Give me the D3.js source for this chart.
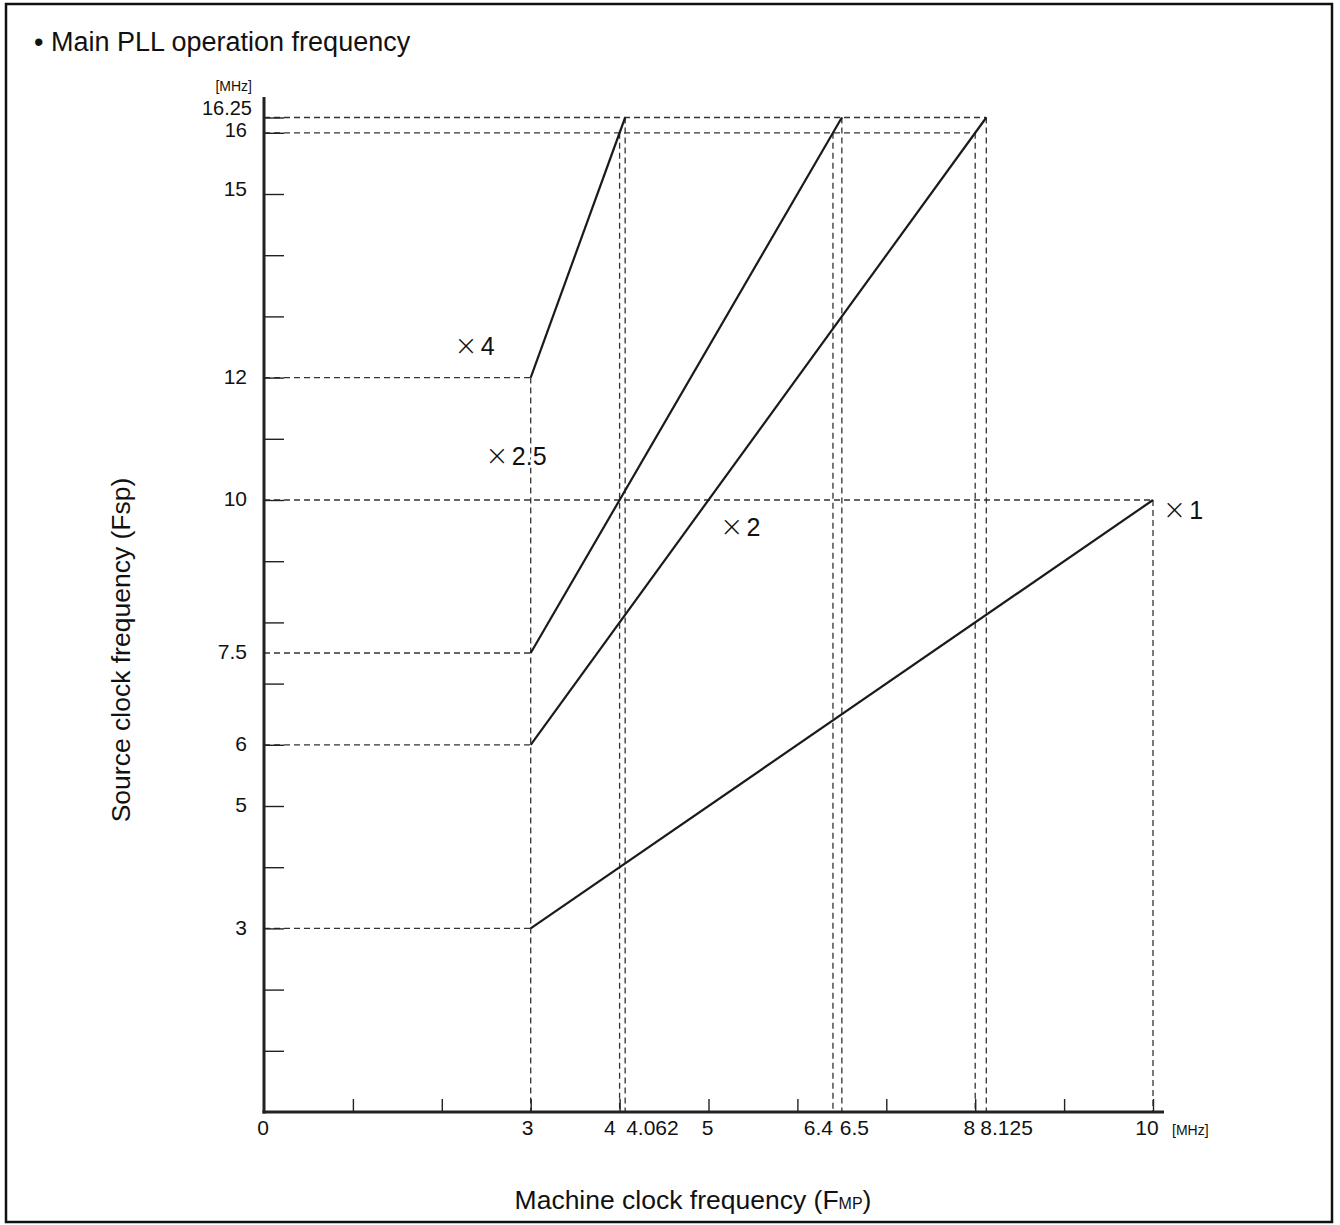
<!DOCTYPE html>
<html>
<head>
<meta charset="utf-8">
<script src="https://cdn.jsdelivr.net/npm/d3@7"></script>
<style>
  body { margin: 0; background: #fff; }
  text { font-family: "Liberation Sans", Arial, Helvetica, sans-serif; fill: #111; }
</style>
</head>
<body>
<svg id="chart" width="1340" height="1225"></svg>
<script>
// chart values
const seriesNames = ['4', '2.5', '2', '1'];
const fmpFrom = [3, 3, 3, 3];
const fmpTo = [4.0625, 6.5, 8.125, 10];
const fspFrom = [12, 7.5, 6, 3];
const fspTo = [16.25, 16.25, 16.25, 10];

// guide lines (dashed)
const hGuideFsp = [3, 6, 7.5, 12, 10, 16, 16.25];
const hGuideTo = [3, 3, 3, 3, 10, 8, 8.125];
const vGuideFmp = [3, 4, 4.0625, 6.4, 6.5, 8, 8.125, 10];
const vGuideFrom = [12, 16, 16.25, 16, 16.25, 16, 16.25, 10];

const xTicks = [1, 2, 3, 4, 5, 6, 7, 8, 9, 10];
const xLabels = [0, 3, 4, 4.0625, 5, 6.4, 6.5, 8, 8.125, 10];
const xLabelText = ['0', '3', '4', '4.062', '5', '6.4', '6.5', '8', '8.125', '10'];
const yTicks = [1, 2, 3, 4, 5, 6, 7, 8, 9, 10, 11, 12, 13, 14, 15, 16, 16.25];
const yLabels = [3, 5, 6, 7.5, 10, 12, 15, 16, 16.25];

const svg = d3.select('#chart');

const x = d3.scaleLinear().domain([0, 10]).range([264, 1153]);
const y = d3.scaleLinear().domain([0, 10]).range([1112, 500]);

// frame
svg.append('rect')
  .attr('x', 6).attr('y', 4).attr('width', 1326).attr('height', 1218)
  .attr('fill', 'none').attr('stroke', '#111').attr('stroke-width', 2.5);

svg.append('text')
  .attr('x', 34).attr('y', 51)
  .attr('font-size', 27)
  .text('\u2022 Main PLL operation frequency');

// dashed guides
const guides = svg.append('g')
  .attr('stroke', '#333').attr('stroke-width', 1.3)
  .attr('stroke-dasharray', '6,4').attr('fill', 'none');

hGuideFsp.forEach((v, i) => {
  guides.append('line')
    .attr('x1', x(0)).attr('x2', x(hGuideTo[i]))
    .attr('y1', y(v)).attr('y2', y(v));
});
vGuideFmp.forEach((v, i) => {
  guides.append('line')
    .attr('x1', x(v)).attr('x2', x(v))
    .attr('y1', y(vGuideFrom[i])).attr('y2', y(0));
});

// axes
const yAxis = svg.append('g')
  .attr('transform', `translate(${x(0)},0)`)
  .call(d3.axisLeft(y).tickValues(yTicks).tickSize(-20).tickFormat(''));
yAxis.select('.domain').remove();
yAxis.selectAll('line').attr('stroke', '#222').attr('stroke-width', 1.4);

const xAxis = svg.append('g')
  .attr('transform', `translate(0,${y(0)})`)
  .call(d3.axisBottom(x).tickValues(xTicks).tickSize(-13).tickFormat(''));
xAxis.select('.domain').remove();
xAxis.selectAll('line').attr('stroke', '#222').attr('stroke-width', 1.4);

svg.append('line')
  .attr('x1', x(0)).attr('x2', x(0)).attr('y1', 97).attr('y2', y(0) + 1.5)
  .attr('stroke', '#222').attr('stroke-width', 3);
svg.append('line')
  .attr('x1', x(0) - 1.5).attr('x2', 1164).attr('y1', y(0)).attr('y2', y(0))
  .attr('stroke', '#222').attr('stroke-width', 3);

// y labels
const yBase = { 16: 137, 16.25: 115, 15: 196 };
const yLab = svg.append('g').attr('text-anchor', 'end');
yLabels.forEach(v => {
  const t = yLab.append('text')
    .attr('x', x(0) - (v === 16.25 ? 12 : 17))
    .attr('font-size', v >= 16 ? 20 : 21)
    .text(String(v));
  if (yBase[v]) t.attr('y', yBase[v]);
  else t.attr('y', y(v) - 1).attr('dy', '0.35em');
});
svg.append('text')
  .attr('x', 252).attr('y', 91).attr('text-anchor', 'end')
  .attr('font-size', 14).text('[MHz]');

// x labels
const xAnchor = { 3: ['middle', -3], 4: ['end', -4], 4.0625: ['start', 1], 6.4: ['end', 0], 6.5: ['start', -2], 8: ['end', 0], 8.125: ['start', -6], 10: ['middle', -6] };
const xLab = svg.append('g').attr('font-size', 21);
xLabels.forEach((v, i) => {
  const a = xAnchor[v] || ['middle', -1];
  xLab.append('text')
    .attr('x', x(v) + a[1]).attr('y', 1135)
    .attr('text-anchor', a[0])
    .text(xLabelText[i]);
});
svg.append('text')
  .attr('x', 1172).attr('y', 1135).attr('font-size', 14).text('[MHz]');

// axis titles
svg.append('text')
  .attr('transform', 'translate(130,650) rotate(-90)')
  .attr('text-anchor', 'middle').attr('font-size', 26.5)
  .text('Source clock frequency (Fsp)');
const xt = svg.append('text')
  .attr('x', 693).attr('y', 1209).attr('text-anchor', 'middle').attr('font-size', 26.5);
xt.append('tspan').text('Machine clock frequency (F');
xt.append('tspan').attr('font-size', 16).text('MP');
xt.append('tspan').text(')');

// series lines
const line = d3.line().x(d => x(d[0])).y(d => y(d[1]));
seriesNames.forEach((s, i) => {
  svg.append('path')
    .attr('d', line([[fmpFrom[i], fspFrom[i]], [fmpTo[i], fspTo[i]]]))
    .attr('fill', 'none').attr('stroke', '#1a1a1a').attr('stroke-width', 2.2);
});

// series labels (anchor in data units), white halo so guides break behind them
const labelAt = [[2.14, 12.37], [2.49, 10.57], [5.13, 9.41], [10.11, 9.69]];
seriesNames.forEach((s, i) => {
  const t = svg.append('text')
    .attr('x', x(labelAt[i][0])).attr('y', y(labelAt[i][1]))
    .attr('font-size', 25)
    .attr('stroke', '#fff').attr('stroke-width', 5)
    .attr('paint-order', 'stroke');
  t.append('tspan')
    .style('font-family', '"DejaVu Sans", sans-serif')
    .attr('font-size', 28).attr('font-weight', 200).text('\u00d7');
  t.append('tspan').attr('dx', 3).text(s);
});
</script>
</body>
</html>
